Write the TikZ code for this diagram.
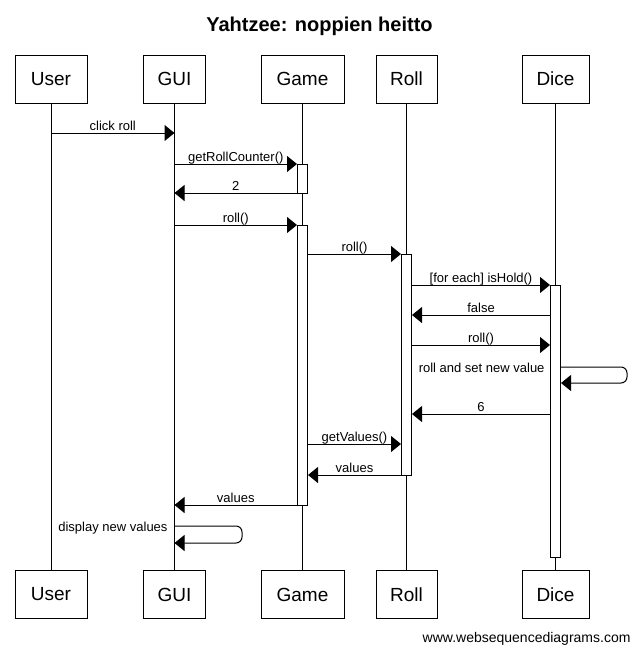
\documentclass[tikz,border=0pt]{standalone}
\usepackage{fontspec}
\setmainfont{Liberation Sans}
\usetikzlibrary{arrows.meta}

\begin{document}
\begin{tikzpicture}[x=1pt, y=-1pt, line width=1pt]
    \tikzstyle{actor} = [rectangle, draw, fill=white, minimum height=48pt, inner sep=0pt, font=\fontsize{19}{22}\selectfont]
    \tikzstyle{activ} = [rectangle, draw, fill=white, minimum width=10pt, inner sep=0pt]
    \tikzstyle{msg} = [-{Triangle[length=10pt,width=16pt]}]
    \tikzstyle{lbl} = [midway, anchor=base, yshift=3pt, inner sep=0pt, font=\fontsize{13}{15}\selectfont]
    \tikzstyle{selflbl} = [anchor=base east, inner sep=0pt, font=\fontsize{13}{15}\selectfont]

    \useasboundingbox (0,0) rectangle (637,653);

    % Title
    \node[anchor=base, font=\bfseries\fontsize{20}{24}\selectfont] (title) at (319.5,31) {Yahtzee: noppien heitto};

    % Participants, top
    \node[actor, minimum width=72pt] (userT) at (51,79) {User};
    \node[actor, minimum width=62pt] (guiT) at (174.5,79) {GUI};
    \node[actor, minimum width=83pt] (gameT) at (302.5,79) {Game};
    \node[actor, minimum width=61pt] (rollT) at (406.5,79) {Roll};
    \node[actor, minimum width=67pt] (diceT) at (555.5,79) {Dice};

    % Participants, bottom
    \node[actor, minimum width=72pt] (userB) at (51,594.5) {User};
    \node[actor, minimum width=62pt] (guiB) at (174.5,594.5) {GUI};
    \node[actor, minimum width=83pt] (gameB) at (302.5,594.5) {Game};
    \node[actor, minimum width=61pt] (rollB) at (406.5,594.5) {Roll};
    \node[actor, minimum width=67pt] (diceB) at (555.5,594.5) {Dice};

    % Lifelines
    \foreach \p in {user,gui,game,roll,dice} \draw (\p T) -- (\p B);

    % Activations
    \node[activ, minimum height=29pt] (gameA1) at (302.5,178.5) {};
    \node[activ, minimum height=280pt] (gameA2) at (302.5,365) {};
    \node[activ, minimum height=221pt] (rollA) at (406.5,364.5) {};
    \node[activ, minimum height=272pt] (diceA) at (555.5,421) {};

    % Messages
    \draw[msg] (userT |- 0,133) -- (guiT |- 0,133) node[lbl] {click roll};
    \draw[msg] (guiT |- 0,164) -- (gameA1.west |- 0,164) node[lbl] {getRollCounter()};
    \draw[msg] (gameA1.west |- 0,193) -- (guiT |- 0,193) node[lbl] {2};
    \draw[msg] (guiT |- 0,225) -- (gameA2.west |- 0,225) node[lbl] {roll()};
    \draw[msg] (gameA2.east |- 0,254) -- (rollA.west |- 0,254) node[lbl] {roll()};
    \draw[msg] (rollA.east |- 0,285) -- (diceA.west |- 0,285) node[lbl] {[for each] isHold()};
    \draw[msg] (diceA.west |- 0,315) -- (rollA.east |- 0,315) node[lbl] {false};
    \draw[msg] (rollA.east |- 0,345) -- (diceA.west |- 0,345) node[lbl] {roll()};

    \node[selflbl] (setlbl) at (545,372) {roll and set new value};
    \draw[msg, rounded corners=6pt] (diceA.east |- 0,367) -- (627,367) -- (627,383) -- (diceA.east |- 0,383);

    \draw[msg] (diceA.west |- 0,414) -- (rollA.east |- 0,414) node[lbl] {6};
    \draw[msg] (gameA2.east |- 0,444) -- (rollA.west |- 0,444) node[lbl] {getValues()};
    \draw[msg] (rollA.west |- 0,475) -- (gameA2.east |- 0,475) node[lbl] {values};
    \draw[msg] (gameA2.west |- 0,505) -- (guiT |- 0,505) node[lbl] {values};

    \node[selflbl] (displbl) at (168,531) {display new values};
    \draw[msg, rounded corners=6pt] (guiT |- 0,526) -- (242,526) -- (242,543) -- (guiT |- 0,543);

    % Footer
    \node[anchor=base east, inner sep=0pt, font=\fontsize{14}{16}\selectfont] (footer) at (631,642) {www.websequencediagrams.com};
\end{tikzpicture}
\end{document}
